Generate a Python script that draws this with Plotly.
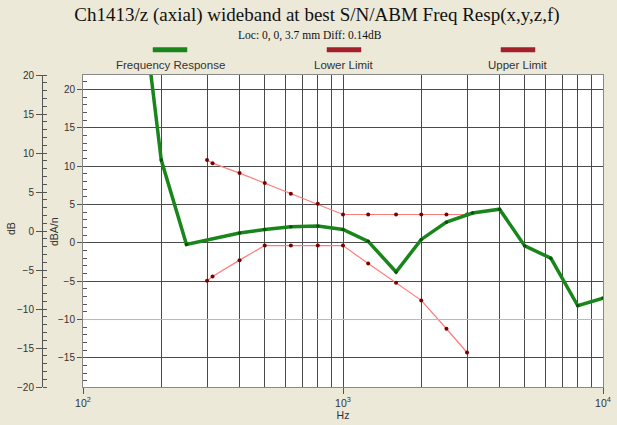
import plotly.graph_objects as go

# ---- data ----
resp_hz = [160, 200, 250, 400, 500, 630, 800, 1000, 1250, 1600, 2000, 2500, 3150, 4000, 5000, 6300, 8000, 10000]
resp_db = [38, 10.8, -0.2, 1.3, 1.75, 2.1, 2.2, 1.75, 0.2, -3.8, 0.45, 2.7, 3.9, 4.4, -0.4, -2.0, -8.2, -7.2]

limit_hz = [300, 315, 400, 500, 630, 800, 1000, 1250, 1600, 2000, 2500, 3000]
upper_db = [10.8, 10.4, 9.1, 7.8, 6.4, 5.1, 3.7, 3.7, 3.7, 3.7, 3.7, 3.7]
lower_db = [-4.95, -4.4, -2.25, -0.35, -0.35, -0.35, -0.35, -2.7, -5.2, -7.5, -11.2, -14.3]

legend_names = ["Frequency Response", "Lower Limit", "Upper Limit"]
x_tickvals = [100, 1000, 10000]
x_ticktext = ["10<sup>2</sup>", "10<sup>3</sup>", "10<sup>4</sup>"]
light_grid_db = -10

# ---- geometry ----
W, H = 617, 425
ML, MR, MT, MB = 42, 14, 75, 38
PW = W - ML - MR
PH = H - MT - MB
x_dom0 = (83 - ML) / PW


def px(x):
    return (x - ML) / PW


def py(y):
    return (H - MB - y) / PH


GREEN = "#18861a"
GREEN_DARK = "#0c4f0c"
RED_LINE = "#ff7b7b"
RED_DARK = "#7a0000"
GRID = "#4a4a4a"
BG = "#ece9d8"
TXT = "#333333"

fig = go.Figure()

fig.add_trace(go.Scatter(
    x=limit_hz, y=upper_db, mode="lines+markers", name=legend_names[2],
    line=dict(color=RED_LINE, width=1.2),
    marker=dict(color=RED_DARK, size=4), showlegend=False))
fig.add_trace(go.Scatter(
    x=limit_hz, y=lower_db, mode="lines+markers", name=legend_names[1],
    line=dict(color=RED_LINE, width=1.2),
    marker=dict(color=RED_DARK, size=4), showlegend=False))
fig.add_trace(go.Scatter(
    x=resp_hz, y=resp_db, mode="lines+markers", name=legend_names[0],
    line=dict(color=GREEN, width=3.5),
    marker=dict(color=GREEN_DARK, size=3.5), showlegend=False))
# invisible trace so the outer dB axis is drawn
fig.add_trace(go.Scatter(
    x=resp_hz, y=resp_db, yaxis="y2", mode="lines", opacity=0,
    line=dict(width=0), hoverinfo="skip", showlegend=False))

tickfont = dict(family="Liberation Sans", size=10, color=TXT)
axis_title_font = dict(family="Liberation Sans", size=10.5, color=TXT)

fig.update_layout(
    width=W, height=H,
    margin=dict(l=ML, r=MR, t=MT, b=MB, autoexpand=False),
    paper_bgcolor=BG, plot_bgcolor="white",
    title=dict(text="Ch1413/z (axial) wideband at best S/N/ABM Freq Resp(x,y,z,f)",
               x=317 / W, xanchor="center", y=1 - 14 / H, yanchor="middle",
               font=dict(family="Liberation Serif", size=19, color="#111111")),
    xaxis=dict(type="log", range=[2, 4], domain=[x_dom0, 1], automargin=False,
               tickvals=x_tickvals, ticktext=x_ticktext,
               ticks="outside", ticklen=6, tickcolor="#555555",
               showgrid=True, gridcolor=GRID, gridwidth=1,
               minor=dict(dtick="D1", showgrid=True, gridcolor=GRID, gridwidth=1, ticks=""),
               showline=True, linecolor="#888888", mirror=True,
               tickfont=dict(family="Liberation Sans", size=10.5, color=TXT),
               title=dict(text="Hz", standoff=1, font=axis_title_font),
               zeroline=False),
    yaxis=dict(range=[-18.8, 21.9], tickmode="linear", tick0=0, dtick=5,
               automargin=False, showticklabels=True, anchor="x", side="left",
               ticks="outside", ticklen=5, tickcolor="#555555",
               minor=dict(dtick=1, tick0=0, ticks="inside", ticklen=4,
                          tickcolor="#555555", showgrid=False),
               showgrid=True, gridcolor=GRID, gridwidth=1, zeroline=False,
               showline=True, linecolor="#888888", mirror=True,
               tickfont=tickfont),
    yaxis2=dict(overlaying="y", anchor="free", position=0, side="left",
                automargin=False,
                range=[-20, 20], tickmode="linear", tick0=0, dtick=5,
                ticks="outside", ticklen=6, tickcolor="#555555",
                minor=dict(dtick=1, tick0=0, ticks="inside", ticklen=4,
                           tickcolor="#555555", showgrid=False),
                showgrid=False, zeroline=False,
                showline=True, linecolor="#555555",
                tickfont=tickfont),
)

# y-axis titles placed as in the reference
fig.add_annotation(text="dB", xref="paper", yref="paper", x=px(11), y=py(229),
                   textangle=-90, showarrow=False, xanchor="center", yanchor="middle",
                   font=axis_title_font)
fig.add_annotation(text="dBA/n", xref="paper", yref="paper", x=px(54), y=py(232),
                   textangle=-90, showarrow=False, xanchor="center", yanchor="middle",
                   font=axis_title_font)

# lighter gridline (as in the reference)
fig.add_shape(type="line", xref="x domain", yref="y", x0=0, x1=1,
              y0=light_grid_db, y1=light_grid_db, layer="above",
              line=dict(color="#bdbdbd", width=1))

# subtitle
fig.add_annotation(text="Loc: 0, 0, 3.7 mm Diff: 0.14dB", xref="paper", yref="paper",
                   x=px(310), y=py(35), showarrow=False, xanchor="center", yanchor="middle",
                   font=dict(family="Liberation Serif", size=11.5, color="#111111"))

# custom legend (colour bar above label)
legend_items = [(legend_names[0], GREEN, 170), (legend_names[1], "#a3202a", 344), (legend_names[2], "#a3202a", 518)]
for name, col, cx in legend_items:
    fig.add_shape(type="rect", xref="paper", yref="paper",
                  x0=px(cx - 17), x1=px(cx + 17), y0=py(52), y1=py(47.5),
                  fillcolor=col, line=dict(color=col, width=0.5))
    fig.add_annotation(text=name, xref="paper", yref="paper", x=px(cx), y=py(65),
                       showarrow=False, xanchor="center", yanchor="middle",
                       font=dict(family="Liberation Sans", size=11.5, color=TXT))

fig.write_html("out.html", config={"displayModeBar": False},
               post_script="document.body.style.margin='0';document.body.style.background='#ece9d8';")
